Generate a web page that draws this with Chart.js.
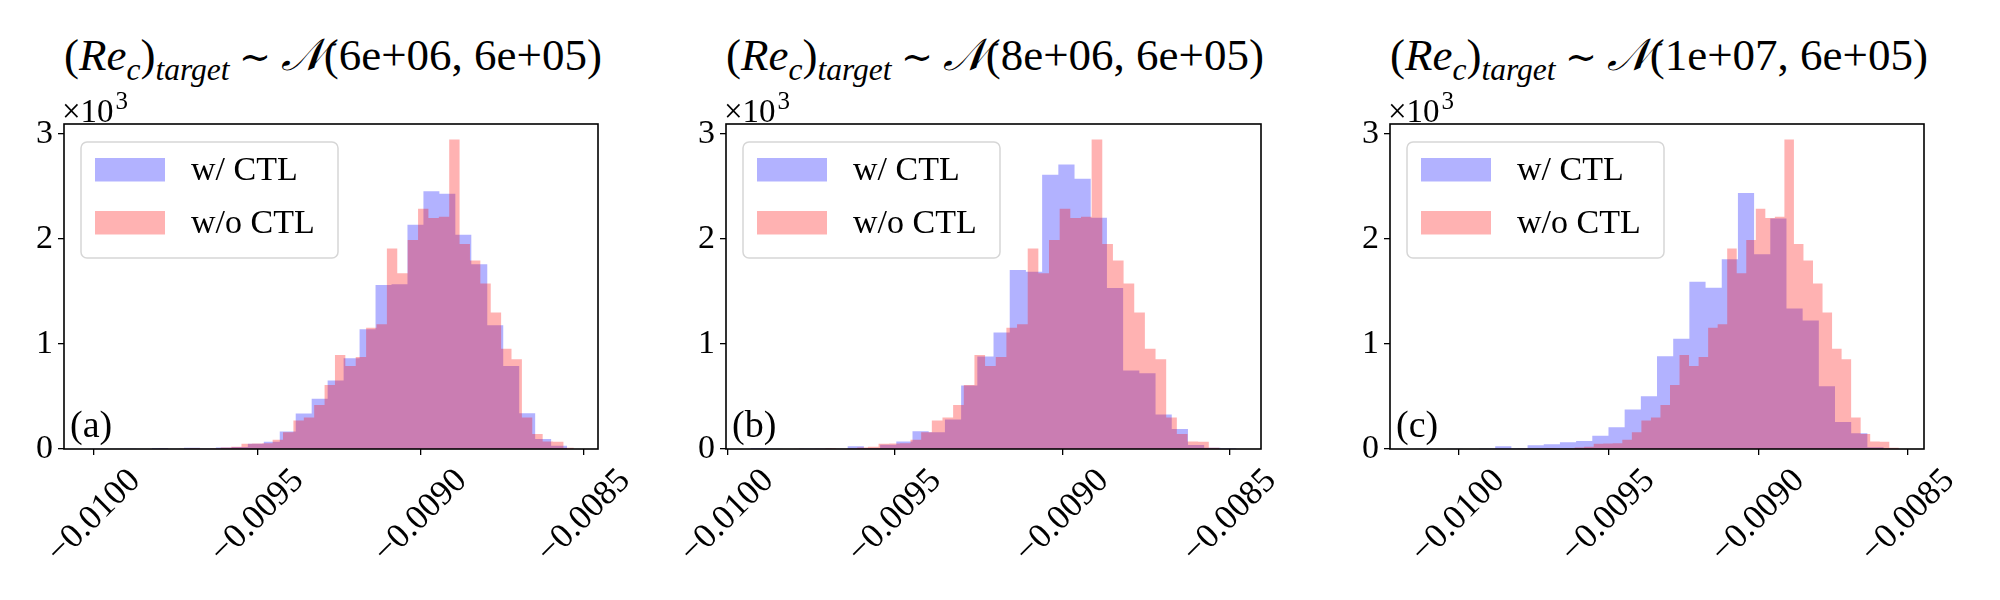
<!DOCTYPE html>
<html>
<head>
<meta charset="utf-8">
<script src="https://cdn.jsdelivr.net/npm/chart.js@4.4.1/dist/chart.umd.min.js"></script>
<style>
  body { margin: 0; background: #fff; width: 2000px; height: 600px; position: relative; overflow: hidden; font-family: "Liberation Serif", serif; color: #000; }
  canvas { position: absolute; }
  .title { position: absolute; text-align: center; font-size: 45px; line-height: 50px; white-space: nowrap; }
  .title i { font-style: italic; }
  .title sub { font-size: 0.7em; vertical-align: baseline; position: relative; top: 0.32em; }
  .title .sim { font-family: "DejaVu Serif", serif; font-size: 0.85em; padding: 0 0.25em; }
  .title .cal { font-family: "DejaVu Sans", serif; font-style: italic; }
</style>
</head>
<body>
<div id="titles"></div>
<canvas id="chartA"></canvas>
<canvas id="chartB"></canvas>
<canvas id="chartC"></canvas>
<script>
// ---- data ----
const xTicks = [-0.0100, -0.0095, -0.0090, -0.0085];
const yTicks = [0, 1000, 2000, 3000];
const yMax = 3093;
const seriesNames = ['w/ CTL', 'w/o CTL'];

// w/o CTL is the same run in every panel (40 bins)
const redStart = -0.009803;
const redWidth = 3.18e-5;
const redCounts = [2, 0, 3, 8, 3, 5, 15, 22, 50, 52, 55, 89, 159, 271, 299, 418, 608, 895, 790, 875,
  1153, 1187, 1908, 1672, 1988, 2287, 2198, 2210, 2946, 1952, 1795, 1576, 1299, 955, 855, 300, 143, 72, 70, 12];

// w/ CTL, one run per target (30 bins each)
const blueStartA = -0.010018, blueWidthA = 4.888e-5;
const blueCountsA = [3, 2, 4, 2, 10, 2, 12, 5, 15, 20, 50, 70, 166, 338, 478, 653, 863, 1140, 1561, 1567,
  2134, 2452, 2430, 2038, 1758, 1178, 790, 341, 96, 32];
const blueStartB = -0.009931, blueWidthB = 4.837e-5;
const blueCountsB = [10, 3, 0, 4, 5, 3, 25, 10, 41, 72, 169, 160, 280, 605, 880, 1108, 1704, 1688, 2611, 2707,
  2573, 2201, 1532, 748, 720, 328, 191, 38, 13, 6];
const blueStartC = -0.010147, blueWidthC = 5.397e-5;
const blueCountsC = [3, 0, 2, 0, 5, 25, 6, 35, 45, 64, 76, 127, 207, 376, 503, 882, 1050, 1592, 1535, 1806,
  2436, 1854, 2194, 1338, 1223, 596, 258, 150, 16, 3];

const xLimA = [-0.010092, -0.008457];
const xLimB = [-0.010004, -0.008407];
const xLimC = [-0.010228, -0.008447];

const targetMeans = ['6e+06', '8e+06', '1e+07'];
const targetStd = '6e+05';
const panelTags = ['(a)', '(b)', '(c)'];

// ---- helpers ----
function histPoints(start, width, counts) {
  const pts = [{ x: start, y: 0 }];
  counts.forEach((c, i) => pts.push({ x: start + i * width, y: c }));
  const end = start + counts.length * width;
  pts.push({ x: end, y: counts[counts.length - 1] });
  pts.push({ x: end, y: 0 });
  return pts;
}

const BLUE = 'rgba(0,0,255,0.3)';
const RED = 'rgba(255,0,0,0.3)';
const FONT = '"Liberation Serif", serif';

// frame, rotated x labels, legend, offset text and panel tag
const panelDeco = {
  id: 'panelDeco',
  afterDraw(chart, args, opts) {
    const { ctx, chartArea: a } = chart;
    const x = chart.scales.x;
    ctx.save();
    ctx.strokeStyle = '#000';
    ctx.lineWidth = 1.6;
    ctx.strokeRect(a.left, a.top, a.right - a.left, a.bottom - a.top);

    ctx.fillStyle = '#000';
    ctx.font = '35px ' + FONT;
    ctx.textAlign = 'center';
    ctx.textBaseline = 'middle';
    xTicks.forEach(v => {
      const label = v.toFixed(4).replace('-', '\u2212');
      const w = ctx.measureText(label).width;
      const half = (w + 24) * Math.SQRT1_2 / 2;
      ctx.save();
      ctx.translate(x.getPixelForValue(v), a.bottom + 18 + half);
      ctx.rotate(-Math.PI / 4);
      ctx.fillText(label, 0, 0);
      ctx.restore();
    });

    // legend
    const lx = a.left + 17, ly = a.top + 18;
    ctx.beginPath();
    ctx.roundRect(lx, ly, 257, 116, 6);
    ctx.fillStyle = 'rgba(255,255,255,0.8)';
    ctx.fill();
    ctx.strokeStyle = 'rgb(214,214,214)';
    ctx.lineWidth = 1.5;
    ctx.stroke();
    chart.data.datasets.forEach((ds, i) => {
      ctx.fillStyle = ds.backgroundColor;
      ctx.fillRect(a.left + 31, a.top + 34 + i * 53, 70, 23.5);
      ctx.fillStyle = '#000';
      ctx.font = '34px ' + FONT;
      ctx.textAlign = 'left';
      ctx.textBaseline = 'middle';
      ctx.fillText(ds.label, a.left + 127, a.top + 47 + i * 53);
    });

    // offset text x10^3
    ctx.textBaseline = 'alphabetic';
    ctx.font = '33px ' + FONT;
    ctx.fillText('\u00d710', a.left - 2, a.top - 2);
    const w10 = ctx.measureText('\u00d710').width;
    ctx.font = '25px ' + FONT;
    ctx.fillText('3', a.left + w10, a.top - 15);

    // panel tag
    ctx.font = '38px ' + FONT;
    ctx.fillText(opts.tag, a.left + 6, a.bottom - 12);
    ctx.restore();
  }
};

const panels = [
  { id: 'chartA', box: [64, 124, 534, 325], xLim: xLimA, blue: histPoints(blueStartA, blueWidthA, blueCountsA), mean: targetMeans[0], tag: panelTags[0] },
  { id: 'chartB', box: [726, 124, 535, 325], xLim: xLimB, blue: histPoints(blueStartB, blueWidthB, blueCountsB), mean: targetMeans[1], tag: panelTags[1] },
  { id: 'chartC', box: [1390, 124, 534, 325], xLim: xLimC, blue: histPoints(blueStartC, blueWidthC, blueCountsC), mean: targetMeans[2], tag: panelTags[2] }
];
const redPts = histPoints(redStart, redWidth, redCounts);

const PAD_L = 64, PAD_T = 46, PAD_R = 70, PAD_B = 140;

panels.forEach(p => {
  const [left, top, width, height] = p.box;

  const t = document.createElement('div');
  t.className = 'title';
  t.style.left = left + 'px';
  t.style.width = width + 'px';
  t.style.top = '30px';
  t.innerHTML = '(<i>Re</i><sub><i>c</i></sub>)<sub><i>target</i></sub><span class="sim">\u223c</span><span class="cal">\u{1D4A9}</span>(' +
    p.mean + ', ' + targetStd + ')';
  document.getElementById('titles').appendChild(t);

  const cv = document.getElementById(p.id);
  const W = width + PAD_L + PAD_R, H = height + PAD_T + PAD_B;
  cv.width = W; cv.height = H;
  cv.style.left = (left - PAD_L) + 'px';
  cv.style.top = (top - PAD_T) + 'px';
  cv.style.width = W + 'px';
  cv.style.height = H + 'px';

  new Chart(cv.getContext('2d'), {
    type: 'line',
    data: {
      datasets: [
        { label: seriesNames[0], data: p.blue, backgroundColor: BLUE, borderColor: 'transparent', borderWidth: 0,
          fill: 'origin', stepped: 'before', pointRadius: 0, order: 2 },
        { label: seriesNames[1], data: redPts, backgroundColor: RED, borderColor: 'transparent', borderWidth: 0,
          fill: 'origin', stepped: 'before', pointRadius: 0, order: 1 }
      ]
    },
    options: {
      responsive: false,
      devicePixelRatio: 1,
      animation: false,
      layout: { padding: { left: 0, top: PAD_T, right: PAD_R, bottom: 0 } },
      plugins: { legend: { display: false }, tooltip: { enabled: false }, panelDeco: { tag: p.tag } },
      scales: {
        x: {
          type: 'linear', min: p.xLim[0], max: p.xLim[1],
          afterBuildTicks: s => { s.ticks = xTicks.map(v => ({ value: v })); },
          afterFit: s => { s.height = PAD_B; },
          ticks: { display: false },
          border: { display: false },
          grid: { drawOnChartArea: false, drawTicks: true, tickLength: 6, color: '#000', lineWidth: 1.3 }
        },
        y: {
          type: 'linear', min: 0, max: yMax,
          afterBuildTicks: s => { s.ticks = yTicks.map(v => ({ value: v })); },
          afterFit: s => { s.width = PAD_L; },
          ticks: { callback: v => String(v / 1000), color: '#000', padding: 5, font: { family: FONT, size: 34 } },
          border: { display: false },
          grid: { drawOnChartArea: false, drawTicks: true, tickLength: 6, color: '#000', lineWidth: 1.3 }
        }
      }
    },
    plugins: [panelDeco]
  });
});
</script>
</body>
</html>
